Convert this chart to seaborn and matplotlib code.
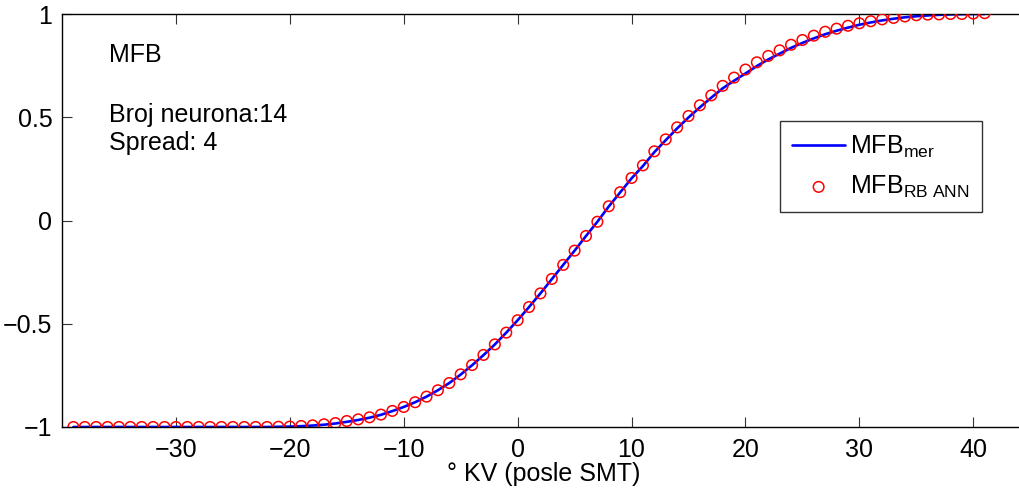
import matplotlib
matplotlib.use("Agg")
import matplotlib.pyplot as plt
import seaborn as sns
import pandas as pd

# ---- data ----
kv = [-39, -38, -37, -36, -35, -34, -33, -32, -31, -30,
      -29, -28, -27, -26, -25, -24, -23, -22, -21, -20,
      -19, -18, -17, -16, -15, -14, -13, -12, -11, -10,
      -9, -8, -7, -6, -5, -4, -3, -2, -1, 0,
      1, 2, 3, 4, 5, 6, 7, 8, 9, 10,
      11, 12, 13, 14, 15, 16, 17, 18, 19, 20,
      21, 22, 23, 24, 25, 26, 27, 28, 29, 30,
      31, 32, 33, 34, 35, 36, 37, 38, 39, 40, 41]

mfb_ann = [-1.000, -1.000, -1.000, -1.000, -1.000, -1.000, -1.000, -1.000, -1.000, -1.000,
           -1.000, -1.000, -1.000, -1.000, -1.000, -1.000, -1.000, -1.000, -0.999, -0.998,
           -0.995, -0.992, -0.987, -0.981, -0.971, -0.963, -0.953, -0.940, -0.922, -0.903,
           -0.880, -0.853, -0.822, -0.787, -0.745, -0.700, -0.651, -0.600, -0.543, -0.483,
           -0.419, -0.353, -0.283, -0.215, -0.146, -0.075, -0.006, 0.069, 0.137, 0.206,
           0.267, 0.335, 0.393, 0.451, 0.506, 0.558, 0.606, 0.652, 0.692, 0.731,
           0.766, 0.797, 0.824, 0.851, 0.874, 0.895, 0.914, 0.929, 0.943, 0.955,
           0.965, 0.974, 0.981, 0.988, 0.994, 0.997, 0.998, 1.000, 1.000, 1.002, 1.004]

mfb_mer = [-1.000, -1.000, -1.000, -1.000, -1.000, -1.000, -1.000, -1.000, -1.000, -1.000,
           -1.000, -1.000, -1.000, -1.000, -1.000, -1.000, -1.000, -1.000, -0.999, -0.998,
           -0.996, -0.993, -0.989, -0.983, -0.975, -0.966, -0.955, -0.941, -0.923, -0.903,
           -0.880, -0.853, -0.822, -0.787, -0.746, -0.701, -0.652, -0.600, -0.543, -0.483,
           -0.419, -0.353, -0.284, -0.215, -0.146, -0.075, -0.006, 0.068, 0.136, 0.204,
           0.264, 0.331, 0.389, 0.446, 0.499, 0.548, 0.595, 0.640, 0.677, 0.712,
           0.748, 0.780, 0.808, 0.836, 0.860, 0.882, 0.902, 0.919, 0.934, 0.948,
           0.959, 0.969, 0.977, 0.984, 0.989, 0.993, 0.996, 0.998, 0.999, 1.000, 1.000]

x_ticks = [-30, -20, -10, 0, 10, 20, 30, 40]
y_ticks = [-1, -0.5, 0, 0.5, 1]
y_ticklabels = ["\u22121", "\u22120.5", "0", "0.5", "1"]
x_ticklabels = ["\u221230", "\u221220", "\u221210", "0", "10", "20", "30", "40"]

df = pd.DataFrame({"kv": kv, "ann": mfb_ann, "mer": mfb_mer})

# ---- style ----
sns.set_style("white")
plt.rcParams["font.family"] = ["Liberation Sans", "DejaVu Sans"]
plt.rcParams["mathtext.fontset"] = "custom"
plt.rcParams["mathtext.rm"] = "Liberation Sans"
plt.rcParams["mathtext.it"] = "Liberation Sans:italic"
for k in ["text.color", "axes.labelcolor", "xtick.color", "ytick.color",
          "xtick.labelcolor", "ytick.labelcolor"]:
    plt.rcParams[k] = "black"

FS = 18
W, H = 1019, 488
fig = plt.figure(figsize=(W / 100, H / 100), dpi=100)
left_px, right_px, top_px, bottom_px = 62, 1025, 14, 427
ax = fig.add_axes([left_px / W, 1 - bottom_px / H,
                   (right_px - left_px) / W, (bottom_px - top_px) / H])

sns.lineplot(data=df, x="kv", y="mer", ax=ax, color=(0, 0, 1), linewidth=1.9,
             label=r"MFB$_{\mathrm{mer}}$", zorder=2)
sns.scatterplot(data=df, x="kv", y="ann", ax=ax, marker="o", s=58,
                facecolor="none", edgecolor=(1, 0, 0), linewidth=1.1,
                label=r"MFB$_{\mathrm{RB\ ANN}}$", zorder=3)

ax.set_xlim(-40, 44.54)
ax.set_ylim(-1, 1)
ax.set_xticks(x_ticks)
ax.set_xticklabels(x_ticklabels)
ax.set_yticks(y_ticks)
ax.set_yticklabels(y_ticklabels)
ax.tick_params(axis="both", direction="in", length=7, width=0.8, color="#333333",
               labelsize=FS, labelcolor="black", top=True, bottom=True, left=True, right=False)
ax.tick_params(axis="x", pad=8)
ax.tick_params(axis="y", pad=7)
for s in ["left", "bottom", "top"]:
    ax.spines[s].set_visible(True)
    ax.spines[s].set_color("black")
    ax.spines[s].set_linewidth(1.0)
ax.spines["right"].set_visible(False)

ax.set_xlabel("\u00b0 KV (posle SMT)", fontsize=FS, labelpad=0, color="black")
ax.set_ylabel("")

ax.text(-35.9, 0.80, "MFB", fontsize=FS, va="center", ha="left", color="black")
ax.text(-35.9, 0.51, "Broj neurona:14", fontsize=FS, va="center", ha="left", color="black")
ax.text(-35.9, 0.375, "Spread: 4", fontsize=FS, va="center", ha="left", color="black")

leg = ax.legend(loc="upper right", bbox_to_anchor=(982 / W, 1 - 121 / H),
                bbox_transform=fig.transFigure, fontsize=FS, frameon=True,
                fancybox=False, borderaxespad=0, handlelength=2.1,
                handletextpad=0.2, borderpad=0.5, labelspacing=0.55, scatterpoints=1)
leg.get_frame().set_edgecolor("black")
leg.get_frame().set_linewidth(1.0)
for t in leg.get_texts():
    t.set_color("black")

fig.savefig("out.png", dpi=100)
